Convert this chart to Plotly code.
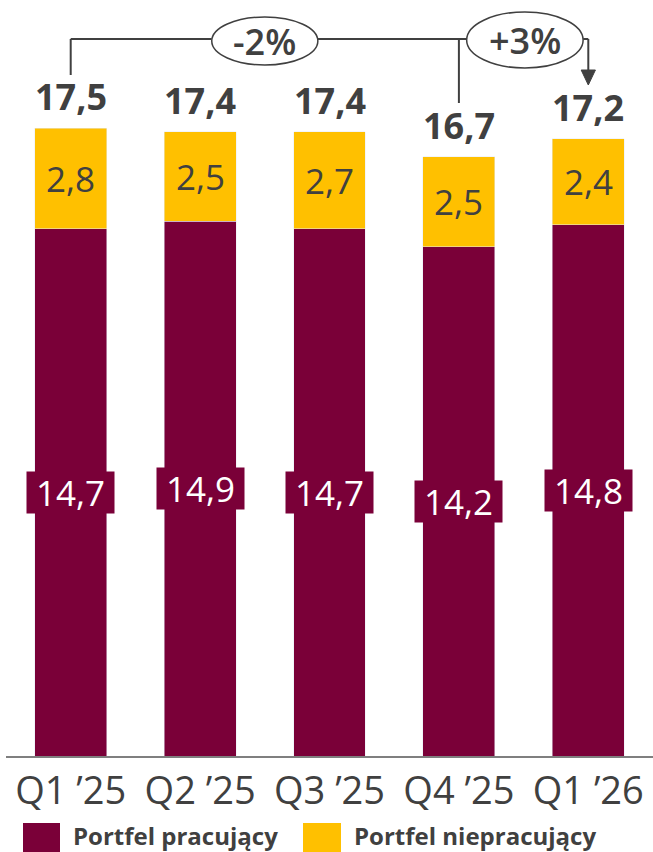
import plotly.graph_objects as go

# Quarterly loan portfolio, split into performing / non-performing parts
quarters = ["Q1 ’25", "Q2 ’25", "Q3 ’25", "Q4 ’25", "Q1 ’26"]
performing = [14.7, 14.9, 14.7, 14.2, 14.8]
non_performing = [2.8, 2.5, 2.7, 2.5, 2.4]
totals = [17.5, 17.4, 17.4, 16.7, 17.2]
change_labels = ["-2%", "+3%"]
legend_names = ["Portfel pracujący", "Portfel niepracujący"]

MAROON = "#7A0038"
YELLOW = "#FFC000"
TEXT = "#404040"
LINE = "#404040"
FONT = "Open Sans"

W, H = 653, 852
M_L, M_R, M_T, M_B = 6, 0, 0, 96
Y_MAX = 21.07
PLOT_H = H - M_T - M_B
PLOT_W = W - M_L - M_R


def fmt(v):
    return f"{v:.1f}".replace(".", ",")


def py(pix):
    """Convert a page pixel row into a y-axis value."""
    return Y_MAX * (1 - (pix - M_T) / PLOT_H)


def px_x(pix):
    return (pix - M_L) / PLOT_W


def px_y(pix):
    return (H - M_B - pix) / PLOT_H


xs = list(range(len(quarters)))

fig = go.Figure()
fig.add_trace(go.Bar(x=xs, y=performing, marker_color=MAROON, width=0.556,
                     name=legend_names[0], showlegend=False, hoverinfo="skip"))
fig.add_trace(go.Bar(x=xs, y=non_performing, marker_color=YELLOW, width=0.556,
                     name=legend_names[1], showlegend=False, hoverinfo="skip"))

annotations = []
for i in xs:
    # performing value, white on a maroon box
    annotations.append(dict(x=i, y=performing[i] / 2, xref="x", yref="y",
                            text=fmt(performing[i]), showarrow=False,
                            width=87, height=41, borderpad=0,
                            font=dict(family=FONT, size=35, color="white"),
                            bgcolor=MAROON))
    # non-performing value
    annotations.append(dict(x=i, y=performing[i] + non_performing[i] / 2,
                            xref="x", yref="y", text=fmt(non_performing[i]),
                            showarrow=False,
                            font=dict(family=FONT, size=35, color=TEXT)))
    # total on top
    annotations.append(dict(x=i, y=totals[i], xref="x", yref="y",
                            text="<b>" + fmt(totals[i]) + "</b>", showarrow=False,
                            yanchor="bottom", yshift=5,
                            font=dict(family=FONT, size=36, color=TEXT)))

# change bubbles (centre x in category units, centre y in pixels, radii)
y_bracket = py(39)
bubbles = [
    dict(cx=1.50, cy=41, rx=0.41, ry=24),
    dict(cx=3.51, cy=40, rx=0.45, ry=28),
]
for b, lab in zip(bubbles, change_labels):
    annotations.append(dict(x=b["cx"], y=py(b["cy"]), xref="x", yref="y", text=lab,
                            showarrow=False,
                            font=dict(family=FONT, size=36, color=TEXT, weight=600)))

# bracket lines: Q1 '25 -> Q4 '25 and Q4 '25 -> Q1 '26
line_style = dict(color=LINE, width=2)
shapes = [
    dict(type="line", xref="x", yref="y", x0=0, x1=0, y0=py(75), y1=y_bracket, line=line_style),
    dict(type="line", xref="x", yref="y", x0=0, x1=bubbles[0]["cx"] - bubbles[0]["rx"],
         y0=y_bracket, y1=y_bracket, line=line_style),
    dict(type="line", xref="x", yref="y", x0=bubbles[0]["cx"] + bubbles[0]["rx"],
         x1=bubbles[1]["cx"] - bubbles[1]["rx"], y0=y_bracket, y1=y_bracket, line=line_style),
    dict(type="line", xref="x", yref="y", x0=3, x1=3, y0=py(103), y1=y_bracket, line=line_style),
    dict(type="line", xref="x", yref="y", x0=bubbles[1]["cx"] + bubbles[1]["rx"], x1=4,
         y0=y_bracket, y1=y_bracket, line=line_style),
    dict(type="line", xref="x", yref="y", x0=4, x1=4, y0=y_bracket, y1=py(72), line=line_style),
    dict(type="path", xref="x", yref="y",
         path=f"M {4 - 0.055},{py(70)} L {4 + 0.055},{py(70)} L 4,{py(85)} Z",
         fillcolor=LINE, line=dict(color=LINE, width=1)),
]
for b in bubbles:
    shapes.append(dict(type="circle", xref="x", yref="y",
                       x0=b["cx"] - b["rx"], x1=b["cx"] + b["rx"],
                       y0=py(b["cy"] + b["ry"]), y1=py(b["cy"] - b["ry"]),
                       line=dict(color=LINE, width=1.5), fillcolor="white"))

# custom legend under the axis
legend_items = [(23, 60, legend_names[0], MAROON), (303, 341, legend_names[1], YELLOW)]
for x0, x1, name, col in legend_items:
    shapes.append(dict(type="rect", xref="paper", yref="paper",
                       x0=px_x(x0), x1=px_x(x1), y0=px_y(823), y1=px_y(853),
                       fillcolor=col, line=dict(width=0)))
    annotations.append(dict(x=px_x(x1 + 11), y=px_y(835),
                            xref="paper", yref="paper", xanchor="left", yanchor="middle",
                            text="<b>" + name + "</b>", showarrow=False,
                            font=dict(family=FONT, size=24, color=TEXT)))

fig.update_layout(
    barmode="stack",
    width=W, height=H,
    margin=dict(l=M_L, r=M_R, t=M_T, b=M_B, pad=0),
    paper_bgcolor="white", plot_bgcolor="white",
    xaxis=dict(tickmode="array", tickvals=xs, ticktext=quarters, range=[-0.5, 4.5],
               showgrid=False, zeroline=False, showline=True, linecolor="#7f7f7f",
               linewidth=2, ticks="", tickfont=dict(family=FONT, size=38, color=TEXT)),
    yaxis=dict(range=[0, Y_MAX], visible=False, showgrid=False, zeroline=False),
    annotations=annotations,
    shapes=shapes,
    showlegend=False,
)

fig.write_html("out.html")
